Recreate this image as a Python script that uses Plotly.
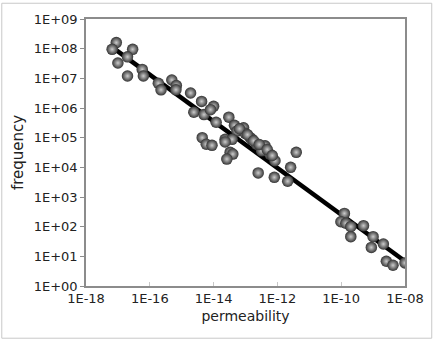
import plotly.graph_objs as go

permeability = [
    8.9e-18, 6.6e-18, 2.9e-17, 2.0e-17, 1.0e-17, 2.0e-17, 5.8e-17, 6.3e-17,
    1.85e-16, 2.25e-16, 4.9e-16, 6.8e-16, 6.6e-16, 1.9e-15, 4.2e-15, 1.0e-14,
    2.4e-15, 5.0e-15, 8.0e-15, 1.2e-14, 3.0e-14, 4.5e-14, 8.7e-14, 5.4e-14,
    9.8e-14, 1.4e-13, 2.3e-14, 3.8e-14, 4.4e-15, 5.9e-15, 8.9e-15, 2.3e-14,
    3.3e-14, 4.0e-14, 2.6e-14, 1.6e-13, 2.2e-13, 4.1e-13, 3.2e-13, 5.8e-13,
    8.4e-13, 3.9e-12, 2.6e-12, 2.5e-13, 8.0e-13, 2.1e-12, 6.5e-14, 1.15e-13,
    1.8e-13, 2.7e-13, 4.8e-13, 6.9e-13,
    1.26e-10, 9.8e-11, 1.4e-10, 2.0e-10, 2.0e-10, 5.0e-10, 1.0e-9, 8.8e-10,
    2.1e-9, 2.6e-9, 4.2e-9, 1.0e-8,
]
frequency = [
    1.6e8, 9.5e7, 9.5e7, 5.3e7, 3.3e7, 1.2e7, 2.0e7, 1.2e7,
    6.8e6, 4.1e6, 8.8e6, 5.7e6, 4.1e6, 3.2e6, 1.67e6, 1.14e6,
    7.2e5, 6.0e5, 8.8e5, 3.3e5, 4.9e5, 2.6e5, 2.15e5, 1.67e5,
    1.4e5, 1.0e5, 8.8e4, 8.8e4, 1.0e5, 6.0e4, 5.5e4, 7.2e4,
    3.2e4, 2.8e4, 1.9e4, 8.8e4, 6.0e4, 5.3e4, 3.6e4, 2.8e4,
    1.67e4, 3.2e4, 1.0e4, 6.5e3, 4.6e3, 3.4e3, 2.0e5, 1.26e5,
    7.9e4, 5.9e4, 4.0e4, 2.5e4,
    2.8e2, 1.47e2, 1.3e2, 1.0e2, 4.6e1, 1.08e2, 4.6e1, 2.0e1,
    2.6e1, 6.8, 5.0, 6.0,
]

# power-law trend line end points
fit_x = [8e-18, 1e-8]
fit_y = [9.7e7, 6.8]

x_ticks = [1e-18, 1e-16, 1e-14, 1e-12, 1e-10, 1e-8]
x_labels = ['1E-18', '1E-16', '1E-14', '1E-12', '1E-10', '1E-08']
y_ticks = [10 ** k for k in range(10)]
y_labels = ['1E+%02d' % k for k in range(10)]

fig = go.Figure()
fig.add_trace(go.Scatter(
    x=fit_x, y=fit_y, mode='lines',
    line=dict(color='black', width=4.5),
    showlegend=False, hoverinfo='skip',
))
fig.add_trace(go.Scatter(
    x=permeability, y=frequency, mode='markers',
    marker=dict(
        size=11.5, color='#333333',
        gradient=dict(type='radial', color='#cccccc'),
        line=dict(width=0),
    ),
    showlegend=False,
))

fig.update_layout(
    width=436, height=342,
    margin=dict(l=86, r=28, t=15, b=56),
    paper_bgcolor='white',
    plot_bgcolor='white',
    font=dict(family='DejaVu Sans', size=13, color='#222'),
    xaxis=dict(
        type='log', range=[-18, -8],
        tickvals=x_ticks, ticktext=x_labels,
        showgrid=False, zeroline=False,
        showline=True, linecolor='#8c8c8c', linewidth=1.5, mirror=True,
        ticks='inside', ticklen=4, tickcolor='#c8c8c8',
        title=dict(text='permeability', font=dict(size=14), standoff=6),
    ),
    yaxis=dict(
        type='log', range=[0, 9],
        tickvals=y_ticks, ticktext=y_labels,
        showgrid=False, zeroline=False,
        showline=True, linecolor='#8c8c8c', linewidth=1.5, mirror=True,
        ticks='outside', ticklen=4, tickcolor='#8c8c8c',
        title=dict(text='frequency', font=dict(size=15), standoff=6),
    ),
    # light frame round the whole chart
    shapes=[dict(
        type='rect', xref='paper', yref='paper',
        x0=-85 / 322, x1=349 / 322, y0=-53 / 271, y1=1 + 16 / 271,
        line=dict(color='#c8c8c8', width=1), layer='below',
    )],
)

# drop the browser's default page margin so the chart sits at 0,0
fig.write_html("out.html", config={'displayModeBar': False},
               post_script="document.body.style.margin = '0';")
